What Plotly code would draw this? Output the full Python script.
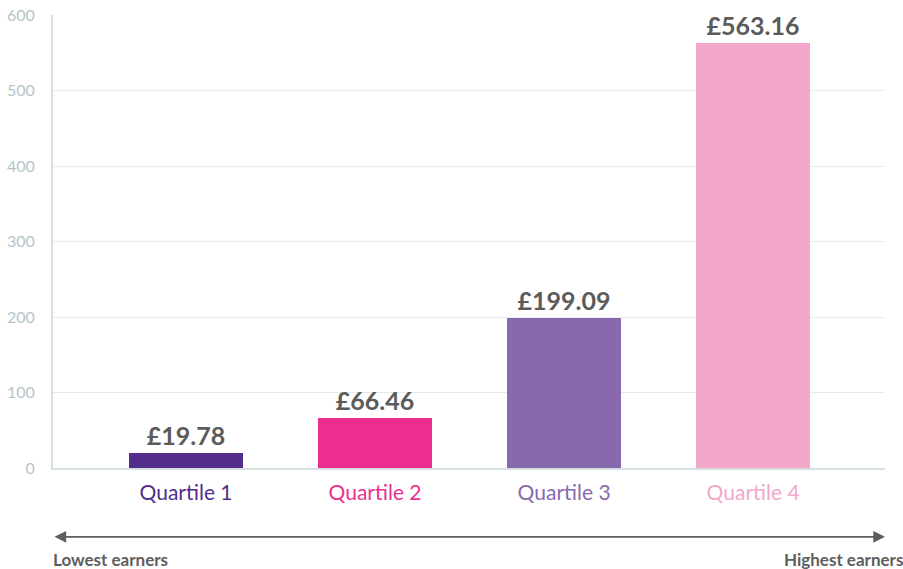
import plotly.graph_objects as go

categories = ["Quartile 1", "Quartile 2", "Quartile 3", "Quartile 4"]
values = [19.78, 66.46, 199.09, 563.16]
labels = ["£19.78", "£66.46", "£199.09", "£563.16"]
colors = ["#522d8b", "#ec2f8f", "#8869ae", "#f3a7cb"]
y_ticks = [0, 100, 200, 300, 400, 500, 600]

xs = list(range(len(categories)))

fig = go.Figure()
fig.add_trace(go.Bar(
    x=xs, y=values, width=0.603,
    marker=dict(color=colors, line=dict(width=0)),
    text=labels, textposition="outside", cliponaxis=False,
    textfont=dict(family="Lato", size=25, color="#5b5b5b", weight=700),
))

fig.update_layout(
    width=903, height=569,
    margin=dict(l=53, r=18, t=15, b=101, autoexpand=False),
    plot_bgcolor="white", paper_bgcolor="white",
    showlegend=False, bargap=0,
    xaxis=dict(
        range=[-0.704, 3.698],
        tickvals=xs,
        ticktext=[f"<span style='color:{c}'>{t}</span>" for t, c in zip(categories, colors)],
        tickfont=dict(family="Lato", size=21),
        showgrid=False, zeroline=False, automargin=False,
        showline=True, linecolor="#d6e1e4", linewidth=2,
        ticks="", ticklabelstandoff=5,
    ),
    yaxis=dict(
        range=[0, 600], tickvals=y_ticks,
        tickfont=dict(family="Lato", size=16, color="#b5c4c8"),
        showgrid=True, gridcolor="#e6eced", gridwidth=1,
        zeroline=False, showline=True, linecolor="#d6e1e4", linewidth=2,
        ticks="", ticklabelstandoff=13, automargin=False,
    ),
)

# arrow spanning lowest to highest earners
fig.add_annotation(
    xref="x domain", yref="y domain", x=1.0, y=-0.152, ax=0.0, ay=-0.152,
    axref="x domain", ayref="y domain", text="", showarrow=True,
    arrowhead=2, arrowside="end+start", arrowsize=1.3, arrowwidth=1.8, arrowcolor="#5e5e5e",
)
fig.add_annotation(
    xref="x domain", yref="y domain", x=0.0, y=-0.203, xanchor="left", yanchor="middle",
    text="Lowest earners", showarrow=False, xshift=-2,
    font=dict(family="Lato", size=17, color="#5e5e5e", weight=700),
)
fig.add_annotation(
    xref="paper", yref="y domain", x=1.0, y=-0.203, xanchor="right", yanchor="middle", xshift=20,
    text="Highest earners", showarrow=False,
    font=dict(family="Lato", size=17, color="#5e5e5e", weight=700),
)

fig.write_html("out.html")
